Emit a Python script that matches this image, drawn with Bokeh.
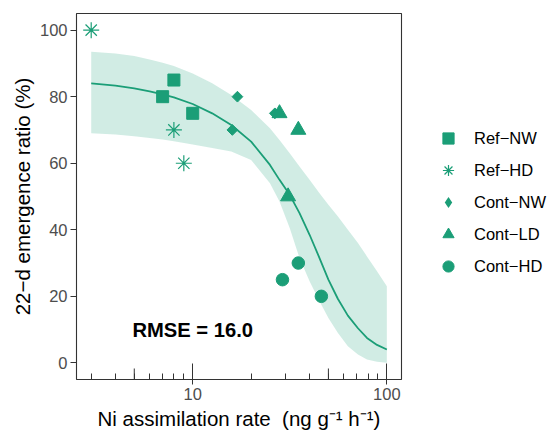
import math
from bokeh.plotting import figure
from bokeh.models import FixedTicker, Legend, LegendItem, Label, Range1d, BasicTickFormatter
from bokeh.embed import file_html
from bokeh.resources import INLINE

# ---------------- data ----------------
series_labels = ["Ref\u2212NW", "Ref\u2212HD", "Cont\u2212NW", "Cont\u2212LD", "Cont\u2212HD"]

ref_nw_x = [7, 8, 10]
ref_nw_y = [80, 85, 75]
ref_hd_x = [3, 8, 9]
ref_hd_y = [100, 70, 60]
cont_nw_x = [16, 17, 26.5]
cont_nw_y = [70, 80, 75]
cont_ld_x = [28, 31, 35]
cont_ld_y = [75, 50, 70]
cont_hd_x = [29, 35, 46]
cont_hd_y = [25, 30, 20]

# fitted curve and its band
fit_x = [3, 4, 5, 6, 7, 8, 10, 12.6, 15.8, 20, 25, 28, 31.6, 35.5, 40, 45, 50, 56, 63, 71, 79, 89, 100]
fit_y = [84.0, 83.3, 82.5, 81.6, 80.7, 79.8, 77.8, 75.0, 71.5, 66.5, 59.5, 55.0, 50.5, 45.0,
         38.5, 31.5, 25.0, 19.2, 14.2, 10.4, 7.5, 5.4, 4.0]
fit_upper = [93.5, 93.0, 92.2, 91.2, 90.2, 89.2, 87.0, 84.0, 80.5, 76.0, 70.5, 67.0, 63.0, 59.0,
             55.0, 51.0, 47.5, 44.0, 40.0, 36.0, 32.0, 27.5, 23.0]
fit_lower = [69.0, 68.6, 68.1, 67.6, 67.1, 66.6, 65.6, 64.6, 63.5, 61.0, 54.0, 48.5, 40.5, 31.5,
             24.5, 18.5, 13.5, 9.0, 5.0, 2.5, 1.0, 0.3, 0.0]

rmse_text = "RMSE = 16.0"
rmse_x, rmse_y = 10, 10

y_ticks = [0, 20, 40, 60, 80, 100]
x_ticks = [10, 100]
x_tick_labels = ["10", "100"]
x_minor = [3, 4, 5, 6, 7, 8, 9, 20, 30, 40, 50, 60, 70, 80, 90]
x_mid = [5, 50]

x_lo, x_hi = 2.52, 119.0
y_lo, y_hi = -5.0, 105.0

# ---------------- style ----------------
GREEN = "#1B9E77"
FONT = "Liberation Sans"
DARK = "#333333"
FRAME_W, FRAME_H = 325, 366
SMALL = "16.5px"
BIG = "20.5px"

p = figure(frame_width=FRAME_W, frame_height=FRAME_H, x_axis_type="log",
           x_range=Range1d(x_lo, x_hi), y_range=Range1d(y_lo, y_hi),
           output_backend="svg", toolbar_location=None,
           min_border_left=76, min_border_top=13, min_border_bottom=55, min_border_right=146)
p.background_fill_color = "white"
p.border_fill_color = "white"
p.xgrid.visible = False
p.ygrid.visible = False
p.outline_line_color = DARK
p.outline_line_width = 1.1

# band + fit line
p.varea(x=fit_x, y1=fit_lower, y2=fit_upper, fill_color=GREEN, fill_alpha=0.2)
p.line(x=fit_x, y=fit_y, line_color=GREEN, line_width=1.8)

# points
r1 = p.scatter(ref_nw_x, ref_nw_y, marker="square", size=12, fill_color=GREEN, line_color=GREEN)
r2 = p.scatter(ref_hd_x, ref_hd_y, marker="asterisk", size=16, line_color=GREEN, line_width=1.2)
r3 = p.scatter(cont_nw_x, cont_nw_y, marker="square", angle=math.pi / 4, size=7.6,
               fill_color=GREEN, line_color=GREEN)
r4 = p.scatter(cont_ld_x, cont_ld_y, marker="triangle", size=15, fill_color=GREEN, line_color=GREEN)
r5 = p.scatter(cont_hd_x, cont_hd_y, marker="circle", size=12.5, fill_color=GREEN, line_color=GREEN)
# legend glyph for the diamond series (size 0 in the plot, sized by the legend box)
r3_leg = p.scatter(cont_nw_x, cont_nw_y, marker="diamond", size=0, fill_color=GREEN, line_color=None)

# mid log ticks (5, 50) drawn longer, like annotation_logticks
mid_len = 11 * (y_hi - y_lo) / FRAME_H
p.segment(x0=x_mid, y0=[y_lo] * len(x_mid), x1=x_mid, y1=[y_lo + mid_len] * len(x_mid),
          line_color=DARK, line_width=1)

# y axis
ya = p.yaxis[0]
ya.ticker = FixedTicker(ticks=y_ticks)
ya.axis_line_color = None
ya.major_tick_out = 6
ya.major_tick_in = 0
ya.minor_tick_out = 0
ya.minor_tick_in = 0
ya.major_tick_line_color = DARK
ya.major_label_text_color = "#4D4D4D"
ya.major_label_text_font = FONT
ya.major_label_text_font_size = SMALL
ya.major_label_standoff = 3
ya.axis_label = "22\u2212d emergence ratio (%)"
ya.axis_label_text_font = FONT
ya.axis_label_text_font_size = BIG
ya.axis_label_text_font_style = "normal"
ya.axis_label_text_color = "black"
ya.axis_label_standoff = 3

# x axis
xa = p.xaxis[0]
xa.ticker = FixedTicker(ticks=x_ticks, minor_ticks=x_minor)
xa.formatter = BasicTickFormatter(use_scientific=False)
xa.major_label_overrides = {t: lab for t, lab in zip(x_ticks, x_tick_labels)}
xa.axis_line_color = None
xa.major_tick_in = 16
xa.major_tick_out = 5
xa.minor_tick_in = 6
xa.minor_tick_out = 0
xa.major_tick_line_color = DARK
xa.minor_tick_line_color = DARK
xa.major_label_text_color = "#4D4D4D"
xa.major_label_text_font = FONT
xa.major_label_text_font_size = SMALL
xa.major_label_standoff = 3
xa.axis_label = "Ni assimilation rate\u00a0 (ng g\u207b\u00b9 h\u207b\u00b9)"
xa.axis_label_text_font = FONT
xa.axis_label_text_font_size = BIG
xa.axis_label_text_font_style = "normal"
xa.axis_label_text_color = "black"
xa.axis_label_standoff = 4

# RMSE annotation
p.add_layout(Label(x=rmse_x, y=rmse_y, text=rmse_text, text_align="center",
                   text_baseline="middle", text_font=FONT, text_font_style="bold",
                   text_font_size="20.2px", text_color="black"))

# legend
legend = Legend(
    items=[LegendItem(label=lab, renderers=[r]) for lab, r in
           zip(series_labels, [r1, r2, r3_leg, r4, r5])],
    location=(33, 99), orientation="vertical",
    glyph_width=28, glyph_height=28, spacing=4, padding=0, margin=0,
    label_standoff=12, label_height=28,
    label_text_font=FONT, label_text_font_size=SMALL, label_text_color="black",
    border_line_color=None, background_fill_alpha=0)
p.add_layout(legend, "right")

open("out.html", "w").write(file_html(p, INLINE))
